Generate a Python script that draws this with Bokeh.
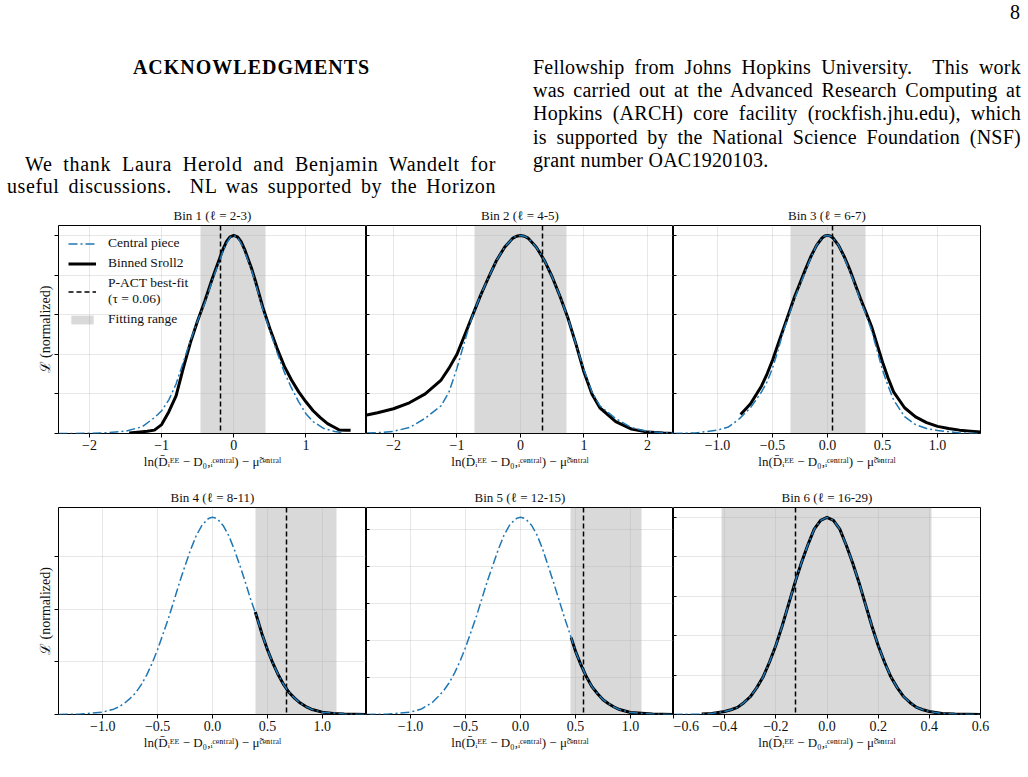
from bokeh.plotting import figure
from bokeh.models import Range1d, FixedTicker, CustomJSTickFormatter, Legend, LegendItem, Div
from bokeh.layouts import column, row
from bokeh.embed import file_html
from bokeh.resources import INLINE

SERIF = "Liberation Serif"
BLUE = "#1f77b4"

# ---------------- data ----------------
titles = ["Bin 1 (ℓ = 2-3)", "Bin 2 (ℓ = 4-5)", "Bin 3 (ℓ = 6-7)",
          "Bin 4 (ℓ = 8-11)", "Bin 5 (ℓ = 12-15)", "Bin 6 (ℓ = 16-29)"]

bin1_central_x = [-2.43, -2.0, -1.75, -1.5, -1.27, -1.1, -1.0, -0.9, -0.8, -0.7, -0.6, -0.5, -0.4, -0.3, -0.25, -0.2,
                  -0.15, -0.1, -0.05, 0.0, 0.05, 0.1, 0.15, 0.2, 0.25, 0.3, 0.4, 0.5, 0.6, 0.7, 0.8, 0.9, 1.0, 1.1,
                  1.25, 1.4, 1.5]
bin1_central_y = [0.0, 0.001, 0.004, 0.012, 0.034, 0.08, 0.115, 0.17, 0.25, 0.36, 0.47, 0.57, 0.66, 0.77, 0.82, 0.87,
                  0.92, 0.96, 0.99, 1.0, 0.99, 0.96, 0.92, 0.87, 0.82, 0.76, 0.63, 0.52, 0.41, 0.31, 0.23, 0.16, 0.10,
                  0.06, 0.025, 0.01, 0.004]
bin1_sroll_x = [-1.45, -1.3, -1.2, -1.1, -1.0, -0.9, -0.8, -0.7, -0.6, -0.5, -0.4, -0.3, -0.25, -0.2, -0.15, -0.1,
                -0.05, 0.0, 0.05, 0.1, 0.15, 0.2, 0.25, 0.3, 0.4, 0.5, 0.6, 0.7, 0.8, 0.9, 1.0, 1.1, 1.2, 1.3, 1.4,
                1.46, 1.55, 1.62]
bin1_sroll_y = [0.002, 0.007, 0.011, 0.017, 0.045, 0.11, 0.19, 0.33, 0.46, 0.57, 0.67, 0.78, 0.83, 0.88, 0.93, 0.97,
                0.993, 1.0, 0.993, 0.97, 0.93, 0.88, 0.83, 0.77, 0.64, 0.53, 0.43, 0.34, 0.27, 0.21, 0.16, 0.115,
                0.08, 0.05, 0.03, 0.018, 0.017, 0.017]

bin2_central_x = [-2.42, -2.25, -2.0, -1.75, -1.5, -1.25, -1.125, -1.0, -0.875, -0.75, -0.625, -0.5, -0.375, -0.25,
                  -0.125, -0.0625, 0.0, 0.0625, 0.125, 0.25, 0.375, 0.5, 0.625, 0.75, 0.875, 1.0, 1.125, 1.25, 1.5,
                  1.75, 2.0, 2.25, 2.41]
bin2_central_y = [0.002, 0.004, 0.011, 0.03, 0.077, 0.14, 0.21, 0.33, 0.47, 0.6, 0.7, 0.79, 0.875, 0.94,
                  0.985, 0.996, 1.0, 0.996, 0.985, 0.94, 0.875, 0.79, 0.69, 0.58, 0.45, 0.32, 0.21, 0.14, 0.075,
                  0.03, 0.011, 0.004, 0.001]
bin2_sroll_x = [-2.42, -2.25, -2.0, -1.75, -1.5, -1.25, -1.125, -1.0, -0.875, -0.75, -0.625, -0.5, -0.375, -0.25,
                -0.125, -0.0625, 0.0, 0.0625, 0.125, 0.25, 0.375, 0.5, 0.625, 0.75, 0.875, 1.0, 1.125, 1.25, 1.5,
                1.75, 2.0, 2.25, 2.41]
bin2_sroll_y = [0.093, 0.105, 0.125, 0.155, 0.2, 0.27, 0.33, 0.4, 0.5, 0.6, 0.7, 0.79, 0.875, 0.94,
                0.985, 0.996, 1.0, 0.996, 0.985, 0.94, 0.875, 0.79, 0.69, 0.58, 0.45, 0.31, 0.2, 0.13, 0.06,
                0.022, 0.007, 0.002, 0.0]

bin3_central_x = [-1.4, -1.2, -1.0, -0.9, -0.8, -0.7, -0.6, -0.55, -0.5, -0.45, -0.4, -0.35, -0.3, -0.25, -0.2, -0.15,
                  -0.1, -0.05, -0.025, 0.0, 0.025, 0.05, 0.1, 0.15, 0.2, 0.25, 0.3, 0.35, 0.4, 0.45, 0.5, 0.55, 0.6,
                  0.7, 0.8, 0.9, 1.0, 1.2, 1.39]
bin3_central_y = [0.0, 0.003, 0.017, 0.033, 0.075, 0.13, 0.21, 0.26, 0.33, 0.42, 0.52, 0.6, 0.68, 0.75, 0.82, 0.89,
                  0.95, 0.987, 0.997, 1.0, 0.997, 0.987, 0.95, 0.89, 0.82, 0.75, 0.67, 0.6, 0.52, 0.42, 0.32, 0.24,
                  0.17, 0.085, 0.045, 0.025, 0.015, 0.003, 0.0]
bin3_sroll_x = [-0.79, -0.7, -0.6, -0.55, -0.5, -0.45, -0.4, -0.35, -0.3, -0.25, -0.2, -0.15, -0.1, -0.05, -0.025,
                0.0, 0.025, 0.05, 0.1, 0.15, 0.2, 0.25, 0.3, 0.35, 0.4, 0.45, 0.5, 0.55, 0.6, 0.7, 0.8, 0.9, 1.0,
                1.1, 1.2, 1.3, 1.39]
bin3_sroll_y = [0.096, 0.15, 0.24, 0.3, 0.37, 0.45, 0.53, 0.61, 0.69, 0.76, 0.83, 0.895, 0.95, 0.987, 0.997,
                1.0, 0.997, 0.987, 0.95, 0.895, 0.83, 0.755, 0.68, 0.61, 0.54, 0.45, 0.36, 0.28, 0.21, 0.13, 0.084,
                0.055, 0.036, 0.025, 0.017, 0.012, 0.008]

bin4_central_x = [-1.4, -1.2, -1.0, -0.9, -0.85, -0.8, -0.75, -0.7, -0.65, -0.6, -0.55, -0.5, -0.45, -0.4, -0.35,
                  -0.3, -0.25, -0.2, -0.15, -0.1, -0.05, -0.025, 0.0, 0.025, 0.05, 0.1, 0.15, 0.2, 0.25, 0.3, 0.35,
                  0.4, 0.45, 0.5, 0.55, 0.6, 0.65, 0.7, 0.75, 0.8, 0.85, 0.9, 1.0, 1.2, 1.4]
bin4_central_y = [0.0, 0.002, 0.012, 0.027, 0.04, 0.058, 0.082, 0.11, 0.15, 0.2, 0.26, 0.33, 0.41, 0.49, 0.58,
                  0.67, 0.755, 0.835, 0.905, 0.956, 0.989, 0.997, 1.0, 0.997, 0.989, 0.956, 0.905, 0.835, 0.755, 0.67,
                  0.58, 0.5, 0.41, 0.33, 0.26, 0.2, 0.15, 0.11, 0.082, 0.058, 0.04, 0.027, 0.012, 0.002, 0.0]
bin4_sroll_x = [0.39, 0.45, 0.5, 0.55, 0.6, 0.65, 0.7, 0.75, 0.8, 0.85, 0.9, 1.0, 1.1, 1.2, 1.4]
bin4_sroll_y = [0.52, 0.41, 0.33, 0.26, 0.2, 0.15, 0.11, 0.082, 0.058, 0.04, 0.027, 0.012, 0.005, 0.002, 0.0]

bin5_central_x = [-1.4, -1.2, -1.0, -0.9, -0.85, -0.8, -0.75, -0.7, -0.65, -0.6, -0.55, -0.5, -0.45, -0.4, -0.35,
                  -0.3, -0.25, -0.2, -0.15, -0.1, -0.05, -0.025, 0.0, 0.025, 0.05, 0.1, 0.15, 0.2, 0.25, 0.3, 0.35,
                  0.4, 0.46, 0.5, 0.55, 0.6, 0.65, 0.7, 0.75, 0.8, 0.85, 0.9, 1.0, 1.2, 1.39]
bin5_central_y = [0.0, 0.002, 0.012, 0.028, 0.045, 0.062, 0.09, 0.12, 0.16, 0.21, 0.27, 0.34, 0.42, 0.5, 0.59,
                  0.68, 0.76, 0.84, 0.91, 0.96, 0.99, 0.997, 1.0, 0.997, 0.99, 0.96, 0.91, 0.84, 0.755, 0.67,
                  0.58, 0.49, 0.39, 0.32, 0.25, 0.19, 0.14, 0.105, 0.075, 0.055, 0.038, 0.025, 0.01, 0.002, 0.0]
bin5_sroll_x = [0.46, 0.5, 0.55, 0.6, 0.65, 0.7, 0.75, 0.8, 0.85, 0.9, 1.0, 1.2, 1.39]
bin5_sroll_y = [0.39, 0.32, 0.25, 0.19, 0.14, 0.105, 0.075, 0.055, 0.038, 0.025, 0.01, 0.002, 0.0]

bin6_central_x = [-0.6, -0.5, -0.45, -0.4, -0.375, -0.35, -0.325, -0.3, -0.275, -0.25, -0.225, -0.2, -0.175, -0.15,
                  -0.125, -0.1, -0.075, -0.05, -0.025, 0.0, 0.025, 0.05, 0.075, 0.1, 0.125, 0.15, 0.175, 0.2, 0.225,
                  0.25, 0.275, 0.3, 0.325, 0.35, 0.375, 0.4, 0.45, 0.5, 0.6]
bin6_central_y = [0.0, 0.002, 0.005, 0.015, 0.024, 0.036, 0.06, 0.09, 0.135, 0.19, 0.265, 0.35, 0.45, 0.56,
                  0.67, 0.77, 0.86, 0.94, 0.985, 1.0, 0.985, 0.94, 0.86, 0.77, 0.67, 0.56, 0.45, 0.35, 0.265,
                  0.19, 0.135, 0.09, 0.06, 0.036, 0.024, 0.015, 0.005, 0.002, 0.0]
bin6_sroll_x = [-0.49, -0.45, -0.4, -0.375, -0.35, -0.325, -0.3, -0.275, -0.25, -0.225, -0.2, -0.175, -0.15,
                -0.125, -0.1, -0.075, -0.05, -0.025, 0.0, 0.025, 0.05, 0.075, 0.1, 0.125, 0.15, 0.175, 0.2, 0.225,
                0.25, 0.275, 0.3, 0.325, 0.35, 0.375, 0.4, 0.45, 0.5, 0.6]
bin6_sroll_y = [0.002, 0.005, 0.015, 0.024, 0.036, 0.06, 0.09, 0.135, 0.19, 0.265, 0.35, 0.45, 0.56,
                0.67, 0.77, 0.86, 0.94, 0.985, 1.0, 0.985, 0.94, 0.86, 0.77, 0.67, 0.56, 0.45, 0.35, 0.265,
                0.19, 0.135, 0.09, 0.06, 0.036, 0.024, 0.015, 0.005, 0.002, 0.0]

fit_lo = [-0.46, -0.72, -0.333, 0.39, 0.455, -0.412]
fit_hi = [0.44, 0.72, 0.342, 1.134, 1.1, 0.41]
best_fit = [-0.18, 0.34, 0.045, 0.67, 0.576, -0.125]

x_limits = [(-2.43, 1.84), (-2.425, 2.41), (-1.4, 1.39), (-1.403, 1.403), (-1.4, 1.39), (-0.6, 0.6)]
x_ticks = [[-2, -1, 0, 1], [-2, -1, 0, 1, 2], [-1.0, -0.5, 0.0, 0.5, 1.0],
           [-1.0, -0.5, 0.0, 0.5, 1.0], [-1.0, -0.5, 0.0, 0.5, 1.0], [-0.6, -0.4, -0.2, 0.0, 0.2, 0.4, 0.6]]
x_digits = [0, 0, 1, 1, 1, 1]
y_ticks = [[0.0, 0.2, 0.4, 0.6, 0.8, 1.0], [0.0, 0.2, 0.4, 0.6, 0.8, 1.0], [0.0, 0.2, 0.4, 0.6, 0.8, 1.0],
           [0.0, 0.2675, 0.535, 0.8025], [0.0, 0.1875, 0.375, 0.5625, 0.75, 0.9375],
           [0.0, 0.2, 0.4, 0.6, 0.8, 1.0]]

central_x = [bin1_central_x, bin2_central_x, bin3_central_x, bin4_central_x, bin5_central_x, bin6_central_x]
central_y = [bin1_central_y, bin2_central_y, bin3_central_y, bin4_central_y, bin5_central_y, bin6_central_y]
sroll_x = [bin1_sroll_x, bin2_sroll_x, bin3_sroll_x, bin4_sroll_x, bin5_sroll_x, bin6_sroll_x]
sroll_y = [bin1_sroll_y, bin2_sroll_y, bin3_sroll_y, bin4_sroll_y, bin5_sroll_y, bin6_sroll_y]

XLABEL = "ln(D\u0304\u1D62\u1D31\u1D31 \u2212 D\u2080,\u1D62\u1D9C\u1D49\u207F\u1D57\u02B3\u1D43\u02E1) \u2212 \u03BC\u0303\u1D9C\u1D49\u207F\u1D57\u02B3\u1D43\u02E1"
YLABEL = "\u2112 (normalized)"

# ---------------- layout geometry ----------------
widths = [366, 307, 355]
b_left = [58, 0, 0]
b_right = [0, 0, 48]
row_h = [281, 296]
b_top = [25, 26]
b_bottom = [48, 63]


def make_panel(i):
    r, c = divmod(i, 3)
    p = figure(width=widths[c], height=row_h[r],
               x_range=Range1d(*x_limits[i]), y_range=Range1d(0, 1.05),
               output_backend="svg", toolbar_location=None,
               min_border_left=b_left[c], min_border_right=b_right[c],
               min_border_top=b_top[r], min_border_bottom=b_bottom[r])
    p.background_fill_color = "white"
    p.border_fill_color = "white"
    p.outline_line_color = "black"
    p.outline_line_width = 1
    p.title.text = titles[i]
    p.title.align = "center"
    p.title.text_font = SERIF
    p.title.text_font_size = "13px"
    p.title.text_font_style = "normal"
    p.title.text_color = "#111111"
    p.title.standoff = 6

    for g in (p.xgrid[0], p.ygrid[0]):
        g.grid_line_color = "#b0b0b0"
        g.grid_line_alpha = 0.3
        g.grid_line_width = 1

    xa = p.xaxis[0]
    xa.ticker = FixedTicker(ticks=x_ticks[i])
    xa.formatter = CustomJSTickFormatter(
        args=dict(d=x_digits[i]),
        code="const s = Math.abs(tick).toFixed(d); return (tick < -1e-9 ? '\u2212' : '') + s;")
    xa.major_label_text_font = SERIF
    xa.major_label_text_font_size = "14px"
    xa.major_label_text_color = "#111111"
    xa.major_label_standoff = 2
    xa.major_tick_out = 4
    xa.major_tick_in = 0
    xa.minor_tick_line_color = None
    xa.axis_line_color = None
    xa.axis_label = XLABEL
    xa.axis_label_text_font = SERIF
    xa.axis_label_text_font_size = "13px"
    xa.axis_label_text_font_style = "normal"
    xa.axis_label_text_color = "#111111"
    xa.axis_label_standoff = 1

    ya = p.yaxis[0]
    ya.ticker = FixedTicker(ticks=y_ticks[i])
    ya.formatter = CustomJSTickFormatter(code="return '';")
    ya.major_label_standoff = 0
    ya.minor_tick_line_color = None
    ya.axis_line_color = None
    if c == 0:
        ya.major_tick_out = 4
        ya.major_tick_in = 0
        ya.axis_label = YLABEL
        ya.axis_label_text_font = SERIF
        ya.axis_label_text_font_size = "14px"
        ya.axis_label_text_font_style = "normal"
        ya.axis_label_text_color = "#111111"
        ya.axis_label_standoff = 2
    else:
        ya.major_tick_out = 0
        ya.major_tick_in = 3

    strip = p.vstrip(x0=[fit_lo[i]], x1=[fit_hi[i]], fill_color="gray", fill_alpha=0.3,
                     line_color=None, level="underlay")
    black = p.line(sroll_x[i], sroll_y[i], line_color="black", line_width=3, line_join="round")
    vline = p.vspan(x=[best_fit[i]], line_color="black", line_width=1.5, line_dash="5 3")
    blue = p.line(central_x[i], central_y[i], line_color=BLUE, line_width=1.5, line_dash="9 3 2 3",
                  line_join="round")

    if i == 0:
        legend = Legend(items=[
            LegendItem(label="Central piece", renderers=[blue]),
            LegendItem(label="Binned Sroll2", renderers=[black]),
            LegendItem(label="P-ACT best-fit\n(\u03C4 = 0.06)", renderers=[vline]),
            LegendItem(label="Fitting range", renderers=[strip]),
        ], location="top_left")
        legend.label_text_font = SERIF
        legend.label_text_font_size = "13.5px"
        legend.label_text_color = "#111111"
        legend.label_text_line_height = 1.15
        legend.label_height = 14
        legend.glyph_height = 11
        legend.glyph_width = 28
        legend.label_standoff = 12
        legend.spacing = 4
        legend.padding = 5
        legend.margin = 5
        legend.border_line_alpha = 0
        legend.background_fill_alpha = 0
        p.add_layout(legend)
    return p


panels = [make_panel(i) for i in range(6)]

LINE = "position:absolute;text-align:justify;text-align-last:justify;white-space:nowrap;"
header_html = f"""
<div style="position:relative;width:1028px;height:200px;font-family:'Liberation Serif',serif;color:#000;font-size:20px;line-height:23px;letter-spacing:0.25px;">
  <div style="position:absolute;left:1010px;top:1px;">8</div>
  <div style="position:absolute;left:7px;width:489px;top:56px;text-align:center;font-weight:bold;letter-spacing:1px;font-size:20px;">ACKNOWLEDGMENTS</div>
  <div style="{LINE}left:25px;width:471px;top:153px;letter-spacing:0.7px;">We thank Laura Herold and Benjamin Wandelt for</div>
  <div style="{LINE}left:7px;width:489px;top:175px;letter-spacing:0.6px;">useful discussions.&nbsp; NL was supported by the Horizon</div>
  <div style="{LINE}left:533px;width:488px;top:56px;">Fellowship from Johns Hopkins University.&nbsp; This work</div>
  <div style="{LINE}left:533px;width:488px;top:79px;">was carried out at the Advanced Research Computing at</div>
  <div style="{LINE}left:533px;width:488px;top:102px;">Hopkins (ARCH) core facility (rockfish.jhu.edu), which</div>
  <div style="{LINE}left:533px;width:488px;top:126px;">is supported by the National Science Foundation (NSF)</div>
  <div style="position:absolute;left:533px;top:149px;white-space:nowrap;">grant number OAC1920103.</div>
</div>
"""
header = Div(text=header_html, width=1028, height=200, margin=0)

page = column(header, row(*panels[:3]), row(*panels[3:]))

open("out.html", "w").write(file_html(page, INLINE))
